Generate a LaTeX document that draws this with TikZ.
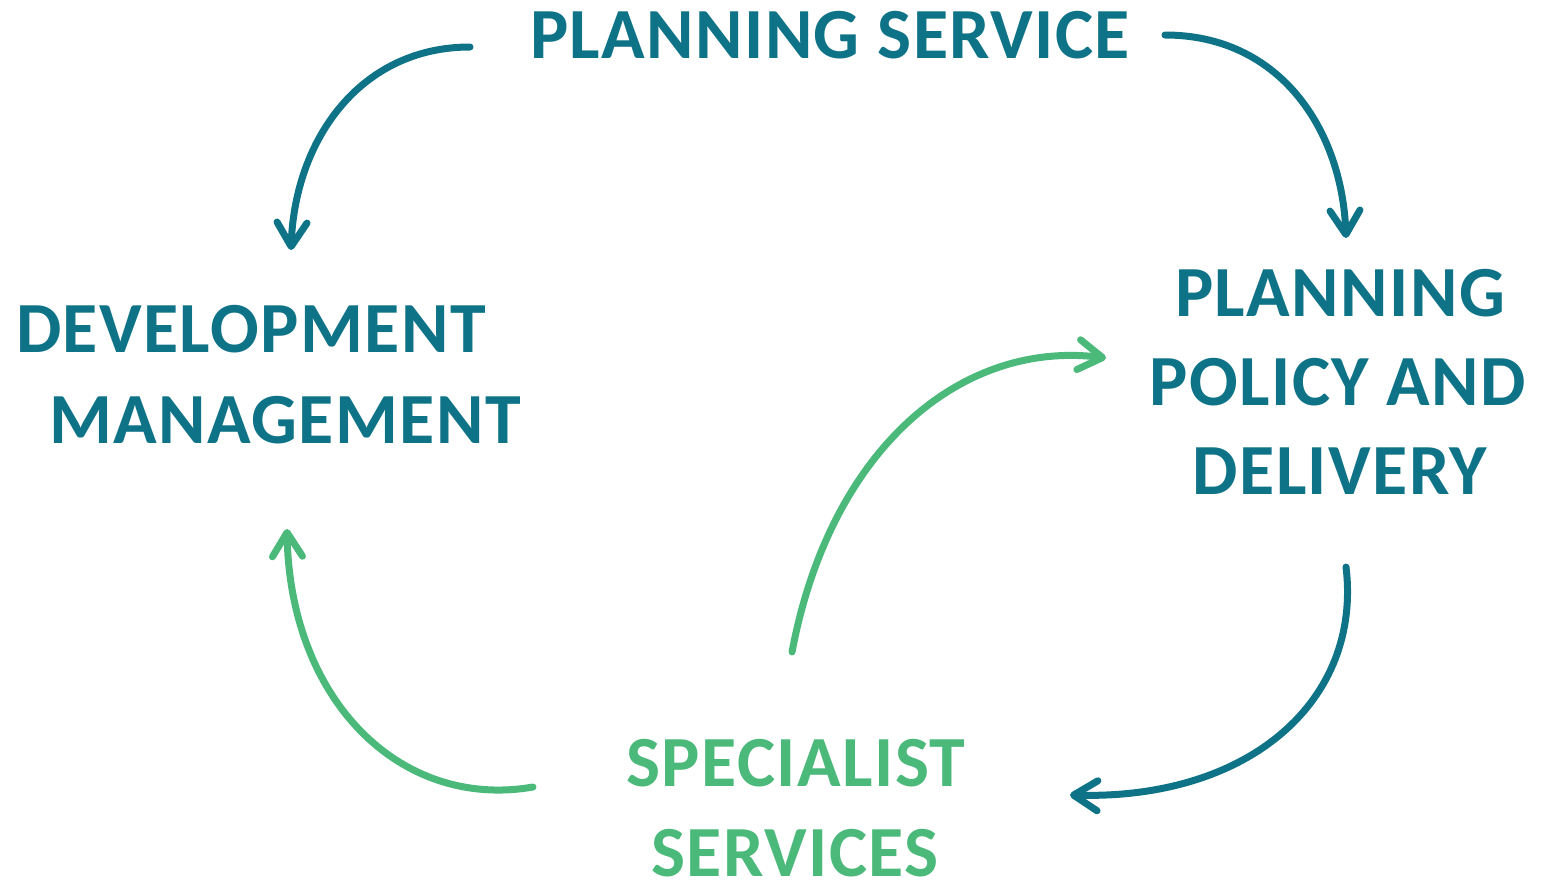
\documentclass[tikz,border=0pt]{standalone}
\usepackage{fontspec}
\setmainfont{Carlito}
\newfontfamily\lblfont{Carlito}[UprightFont={* Bold}, LetterSpace=2]
\usetikzlibrary{arrows.meta}
\definecolor{teal1}{HTML}{0F7388}
\definecolor{green1}{HTML}{4AB97A}
\tikzset{
  lbl/.style={font=\lblfont\fontsize{72}{72}\selectfont, anchor=base, inner sep=0pt},
  cyc/.style={line width=7pt, line cap=round, -{Straight Barb[length=24pt, width=30pt, round]}},
}
\begin{document}
\begin{tikzpicture}[x=1pt,y=-1pt]
\useasboundingbox (0,0) rectangle (1547,884);
\node[lbl, text=teal1] (ps) at (830,58) {PLANNING SERVICE};
\node[lbl, text=teal1] (dm1) at (251,352) {DEVELOPMENT};
\node[lbl, text=teal1] (dm2) at (285,443) {MANAGEMENT};
\node[lbl, text=teal1] (pp1) at (1340,316) {PLANNING};
\node[lbl, text=teal1] (pp2) at (1338,405) {POLICY AND};
\node[lbl, text=teal1] (pp3) at (1340,494) {DELIVERY};
\node[lbl, text=green1] (ss1) at (796,786) {SPECIALIST};
\node[lbl, text=green1] (ss2) at (795,876) {SERVICES};
\coordinate (a1s) at (470,47);  \coordinate (a1e) at (291,250);
\coordinate (a2s) at (1165,35); \coordinate (a2e) at (1346,238);
\coordinate (a3s) at (1346,567); \coordinate (a3e) at (1070,795);
\coordinate (a4s) at (533,787); \coordinate (a4e) at (287,529);
\coordinate (a5s) at (792,652); \coordinate (a5e) at (1106,358);
\draw[cyc, teal1] (a1s) .. controls (360,47) and (295,140) .. (a1e);
\draw[cyc, teal1] (a2s) .. controls (1280,35) and (1342,130) .. (a2e);
\draw[cyc, teal1] (a3s) .. controls (1362,700) and (1250,800) .. (a3e);
\draw[cyc, green1] (a4s) .. controls (400,810) and (290,700) .. (a4e);
\draw[cyc, green1] (a5s) .. controls (830,450) and (960,340) .. (a5e);
\end{tikzpicture}
\end{document}
